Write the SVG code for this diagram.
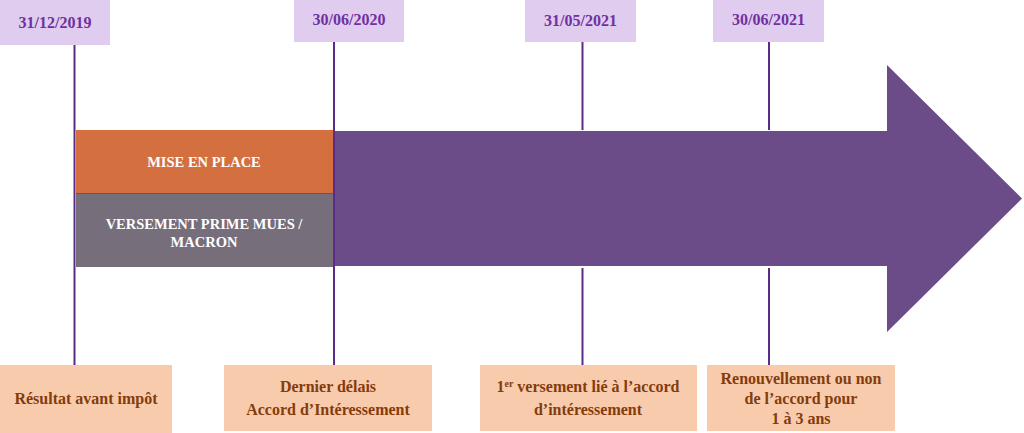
<svg xmlns="http://www.w3.org/2000/svg" width="1024" height="433" viewBox="0 0 1024 433">
  <style>
    .date rect { fill: #E0CCEF; }
    .date text { font-family: "Liberation Serif", "DejaVu Serif", serif; font-weight: bold; font-size: 16px; fill: #7030A0; text-anchor: middle; }
    .note rect { fill: #F8CBAD; }
    .note text { font-family: "Liberation Serif", "DejaVu Serif", serif; font-weight: bold; font-size: 16px; fill: #843C0C; text-anchor: middle; }
    .band text { font-family: "Liberation Serif", "DejaVu Serif", serif; font-weight: bold; font-size: 14.5px; fill: #FFFFFF; text-anchor: middle; }
    .conn line { stroke: #5B2C86; stroke-width: 2; }
  </style>

  <g id="arrow">
    <polygon points="76,131 887,131 887,65 1022,198.5 887,332 887,266 76,266" fill="#6C4C88"/>
  </g>

  <g id="band-mise" class="band">
    <rect x="76" y="130" width="257" height="63" fill="#D4703F"/>
    <text x="204" y="167">MISE EN PLACE</text>
  </g>
  <g id="band-versement" class="band">
    <rect x="76" y="194" width="257" height="73" fill="#766E7B"/>
    <text x="204" y="229">VERSEMENT PRIME MUES /</text>
    <text x="204" y="247">MACRON</text>
  </g>

  <g class="conn" id="connectors">
    <line x1="74.5" y1="45" x2="74.5" y2="365"/>
    <line x1="334" y1="42" x2="334" y2="365"/>
    <line x1="582.5" y1="42" x2="582.5" y2="130"/>
    <line x1="582.5" y1="268" x2="582.5" y2="365"/>
    <line x1="769" y1="42" x2="769" y2="130"/>
    <line x1="769" y1="268" x2="769" y2="365"/>
  </g>

  <g id="date1" class="date">
    <rect x="0" y="0" width="110" height="45"/>
    <text x="55" y="28">31/12/2019</text>
  </g>
  <g id="date2" class="date">
    <rect x="294" y="0" width="110" height="42"/>
    <text x="349" y="25">30/06/2020</text>
  </g>
  <g id="date3" class="date">
    <rect x="525" y="0" width="111" height="42"/>
    <text x="580.5" y="26">31/05/2021</text>
  </g>
  <g id="date4" class="date">
    <rect x="713" y="0" width="111" height="42"/>
    <text x="768.5" y="25">30/06/2021</text>
  </g>

  <g id="note1" class="note">
    <rect x="0" y="365" width="172" height="68"/>
    <text x="86" y="404">Résultat avant impôt</text>
  </g>
  <g id="note2" class="note">
    <rect x="224" y="365" width="208" height="66"/>
    <text x="328" y="392">Dernier délais</text>
    <text x="328" y="415">Accord d’Intéressement</text>
  </g>
  <g id="note3" class="note">
    <rect x="480" y="365" width="217" height="66"/>
    <text x="588" y="392">1<tspan font-size="10" dy="-5">er</tspan><tspan dy="5"> versement lié à l’accord</tspan></text>
    <text x="588" y="415">d’intéressement</text>
  </g>
  <g id="note4" class="note">
    <rect x="707" y="365" width="188" height="66"/>
    <text x="801" y="384">Renouvellement ou non</text>
    <text x="801" y="404">de l’accord pour</text>
    <text x="801" y="424">1 à 3 ans</text>
  </g>
</svg>
